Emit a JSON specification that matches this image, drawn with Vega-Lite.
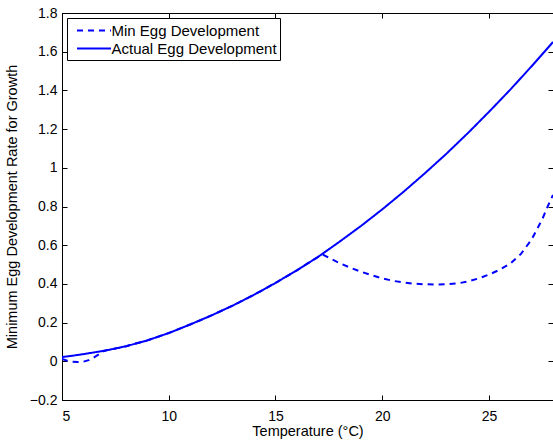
{
  "$schema": "https://vega.github.io/schema/vega-lite/v6.json",
  "autosize": {"type": "none"},
  "width": 491,
  "height": 387,
  "padding": {"left": 62, "top": 13, "right": 0, "bottom": 42},
  "background": "white",
  "config": {
    "font": "Liberation Sans",
    "view": {"stroke": "black", "strokeWidth": 1},
    "axis": {
      "grid": false,
      "domainColor": "black",
      "tickColor": "black",
      "labelColor": "black",
      "titleColor": "black",
      "labelFont": "Liberation Sans",
      "titleFont": "Liberation Sans",
      "labelFontSize": 14,
      "titleFontSize": 14.5,
      "titleFontWeight": "normal",
      "tickSize": -5
    },
    "legend": {
      "labelFont": "Liberation Sans",
      "labelFontSize": 15,
      "labelColor": "black"
    }
  },
  "data": {
    "values": [
      {"T": 5, "y": 0.012, "series": "Min Egg Development"},
      {"T": 5.25, "y": 0.003, "series": "Min Egg Development"},
      {"T": 5.5, "y": -0.002, "series": "Min Egg Development"},
      {"T": 5.75, "y": -0.004, "series": "Min Egg Development"},
      {"T": 6, "y": -0.002, "series": "Min Egg Development"},
      {"T": 6.25, "y": 0.006, "series": "Min Egg Development"},
      {"T": 6.5, "y": 0.02, "series": "Min Egg Development"},
      {"T": 6.75, "y": 0.038, "series": "Min Egg Development"},
      {"T": 7, "y": 0.055, "series": "Min Egg Development"},
      {"T": 7.5, "y": 0.066, "series": "Min Egg Development"},
      {"T": 8, "y": 0.078, "series": "Min Egg Development"},
      {"T": 9, "y": 0.108, "series": "Min Egg Development"},
      {"T": 10, "y": 0.146, "series": "Min Egg Development"},
      {"T": 11, "y": 0.19, "series": "Min Egg Development"},
      {"T": 12, "y": 0.237, "series": "Min Egg Development"},
      {"T": 13, "y": 0.288, "series": "Min Egg Development"},
      {"T": 14, "y": 0.344, "series": "Min Egg Development"},
      {"T": 15, "y": 0.405, "series": "Min Egg Development"},
      {"T": 16, "y": 0.47, "series": "Min Egg Development"},
      {"T": 17, "y": 0.54, "series": "Min Egg Development"},
      {"T": 17.2, "y": 0.553, "series": "Min Egg Development"},
      {"T": 17.5, "y": 0.535, "series": "Min Egg Development"},
      {"T": 18, "y": 0.507, "series": "Min Egg Development"},
      {"T": 18.5, "y": 0.484, "series": "Min Egg Development"},
      {"T": 19, "y": 0.463, "series": "Min Egg Development"},
      {"T": 19.5, "y": 0.445, "series": "Min Egg Development"},
      {"T": 20, "y": 0.429, "series": "Min Egg Development"},
      {"T": 20.5, "y": 0.416, "series": "Min Egg Development"},
      {"T": 21, "y": 0.407, "series": "Min Egg Development"},
      {"T": 21.5, "y": 0.401, "series": "Min Egg Development"},
      {"T": 22, "y": 0.398, "series": "Min Egg Development"},
      {"T": 22.5, "y": 0.397, "series": "Min Egg Development"},
      {"T": 23, "y": 0.398, "series": "Min Egg Development"},
      {"T": 23.5, "y": 0.402, "series": "Min Egg Development"},
      {"T": 24, "y": 0.412, "series": "Min Egg Development"},
      {"T": 24.5, "y": 0.428, "series": "Min Egg Development"},
      {"T": 25, "y": 0.448, "series": "Min Egg Development"},
      {"T": 25.5, "y": 0.473, "series": "Min Egg Development"},
      {"T": 26, "y": 0.505, "series": "Min Egg Development"},
      {"T": 26.5, "y": 0.555, "series": "Min Egg Development"},
      {"T": 27, "y": 0.63, "series": "Min Egg Development"},
      {"T": 27.5, "y": 0.735, "series": "Min Egg Development"},
      {"T": 27.75, "y": 0.8, "series": "Min Egg Development"},
      {"T": 28, "y": 0.86, "series": "Min Egg Development"},
      {"T": 5, "y": 0.022, "series": "Actual Egg Development"},
      {"T": 5.5, "y": 0.029, "series": "Actual Egg Development"},
      {"T": 6, "y": 0.037, "series": "Actual Egg Development"},
      {"T": 6.5, "y": 0.046, "series": "Actual Egg Development"},
      {"T": 7, "y": 0.055, "series": "Actual Egg Development"},
      {"T": 7.5, "y": 0.066, "series": "Actual Egg Development"},
      {"T": 8, "y": 0.078, "series": "Actual Egg Development"},
      {"T": 9, "y": 0.108, "series": "Actual Egg Development"},
      {"T": 10, "y": 0.146, "series": "Actual Egg Development"},
      {"T": 11, "y": 0.19, "series": "Actual Egg Development"},
      {"T": 12, "y": 0.237, "series": "Actual Egg Development"},
      {"T": 13, "y": 0.288, "series": "Actual Egg Development"},
      {"T": 14, "y": 0.344, "series": "Actual Egg Development"},
      {"T": 15, "y": 0.405, "series": "Actual Egg Development"},
      {"T": 16, "y": 0.47, "series": "Actual Egg Development"},
      {"T": 17, "y": 0.54, "series": "Actual Egg Development"},
      {"T": 18, "y": 0.618, "series": "Actual Egg Development"},
      {"T": 19, "y": 0.699, "series": "Actual Egg Development"},
      {"T": 20, "y": 0.785, "series": "Actual Egg Development"},
      {"T": 21, "y": 0.876, "series": "Actual Egg Development"},
      {"T": 22, "y": 0.972, "series": "Actual Egg Development"},
      {"T": 23, "y": 1.072, "series": "Actual Egg Development"},
      {"T": 24, "y": 1.178, "series": "Actual Egg Development"},
      {"T": 25, "y": 1.289, "series": "Actual Egg Development"},
      {"T": 26, "y": 1.404, "series": "Actual Egg Development"},
      {"T": 27, "y": 1.525, "series": "Actual Egg Development"},
      {"T": 28, "y": 1.65, "series": "Actual Egg Development"}
    ]
  },
  "encoding": {
    "x": {"field": "T", "type": "quantitative", "scale": {"domain": [5, 28], "nice": false, "zero": false}},
    "y": {"field": "y", "type": "quantitative", "scale": {"domain": [-0.2, 1.8], "nice": false, "zero": false}},
    "strokeDash": {
      "field": "series", "type": "nominal",
      "scale": {"domain": ["Min Egg Development", "Actual Egg Development"], "range": [[6, 5], [1, 0]]},
      "legend": {
        "title": null, "orient": "top-left", "offset": 5,
        "strokeColor": "black", "fillColor": "white", "padding": 3, "cornerRadius": 0,
        "symbolType": "M-2,0H2", "symbolSize": 289, "symbolStrokeWidth": 2, "symbolStrokeColor": "#0000ff",
        "symbolFillColor": "transparent", "symbolOffset": 14.5,
        "labelOffset": 8, "labelLimit": 300, "rowPadding": 0
      }
    }
  },
  "layer": [
    {
      "transform": [{"filter": "datum.series === 'Min Egg Development'"}],
      "mark": {"type": "line", "color": "#0000ff", "strokeWidth": 2, "clip": true},
      "encoding": {
        "x": {"field": "T", "type": "quantitative", "axis": {"orient": "bottom", "values": [5, 10, 15, 20, 25], "title": "Temperature (°C)", "titlePadding": 1, "labelPadding": 14}},
        "y": {"field": "y", "type": "quantitative", "axis": {"orient": "left", "values": [-0.2, 0, 0.2, 0.4, 0.6, 0.8, 1, 1.2, 1.4, 1.6, 1.8], "format": ".1~f", "title": "Minimum Egg Development Rate for Growth", "titlePadding": 10, "labelPadding": 10}}
      }
    },
    {
      "transform": [{"filter": "datum.series === 'Actual Egg Development'"}],
      "mark": {"type": "line", "color": "#0000ff", "strokeWidth": 2, "clip": true},
      "encoding": {
        "x": {"field": "T", "type": "quantitative", "axis": {"orient": "top", "values": [5, 10, 15, 20, 25], "labels": false, "title": null}},
        "y": {"field": "y", "type": "quantitative", "axis": {"orient": "right", "values": [-0.2, 0, 0.2, 0.4, 0.6, 0.8, 1, 1.2, 1.4, 1.6, 1.8], "labels": false, "title": null}}
      }
    }
  ],
  "resolve": {"axis": {"x": "independent", "y": "independent"}}
}
